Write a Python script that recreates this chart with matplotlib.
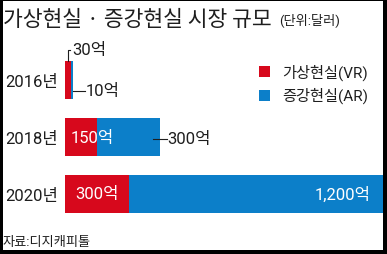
# VR / AR market size stacked bar chart
import matplotlib.pyplot as plt
from matplotlib.patches import Rectangle

plt.rcParams['font.family'] = ['Roboto', 'Noto Sans CJK KR', 'DejaVu Sans']

years = ['2016년', '2018년', '2020년']
vr = [30, 150, 300]
ar = [10, 300, 1200]
vr_labels = ['30억', '150억', '300억']
ar_labels = ['10억', '300억', '1,200억']

RED = '#d7081c'
BLUE = '#0c7fc9'
TXT = '#1e1e1e'

W, H = 387, 255


def fx(x):
    return x / W


def fy(y):
    return 1 - y / H


fig = plt.figure(figsize=(W / 100, H / 100), dpi=100, facecolor='black')
# white panel inside the black frame
fig.patches.append(Rectangle((fx(3), fy(251)), fx(380), 249 / H,
                             transform=fig.transFigure, facecolor='white',
                             edgecolor='none', zorder=-5))

ax = fig.add_axes([fx(65), fy(223.5), 318 / W, 171 / H])
ax.set_zorder(2)
ax.set_facecolor('none')
ypos = range(len(years))
h = 0.65
ax.barh(ypos, vr, height=h, color=RED, zorder=2)
ax.barh(ypos, ar, left=vr, height=h, color=BLUE, zorder=2)
ax.set_xlim(0, 1500)
ax.set_ylim(2.5, -0.5)
for s in ax.spines.values():
    s.set_visible(False)
ax.set_xticks([])
ax.set_yticks(list(ypos), years)
ax.tick_params(axis='y', length=0, pad=5, labelsize=12, labelcolor=TXT)

# 2016: both values outside with leader lines
x0 = vr[0] / 2
ax.plot([x0, x0, x0 + 10], [-h / 2, -0.53, -0.53], color=TXT, lw=0.8,
        clip_on=False)
ax.text(x0 + 18, -0.54, vr_labels[0], fontsize=12, color=TXT,
        ha='left', va='center', clip_on=False)
tot = vr[0] + ar[0]
ax.plot([tot, tot + 55], [0.19, 0.19], color=TXT, lw=0.8)
ax.text(tot + 57, 0.19, ar_labels[0], fontsize=12, color=TXT,
        ha='left', va='center')

# 2018
ax.annotate(vr_labels[1], (0, 1), xytext=(4, 0), textcoords='offset points',
            fontsize=12, color='white', ha='left', va='center', zorder=3)
tot = vr[1] + ar[1]
ax.plot([tot - 35, tot + 30], [1.03, 1.03], color=TXT, lw=0.8, zorder=3)
ax.text(tot + 30, 1.03, ar_labels[1], fontsize=12, color=TXT,
        ha='left', va='center')

# 2020
ax.text(vr[2] / 2, 2, vr_labels[2], fontsize=12, color='white',
        ha='center', va='center', zorder=3)
ax.annotate(ar_labels[2], (vr[2] + ar[2], 2), xytext=(-9, 0),
            textcoords='offset points', fontsize=12, color='white',
            ha='right', va='center', zorder=3)

# title
fig.text(fx(3), fy(26), '가상현실 · 증강현실 시장 규모', fontsize=15.5,
         color=TXT, ha='left', va='baseline',
         family=['Noto Sans CJK KR', 'DejaVu Sans'], fontweight='medium')
fig.text(fx(279), fy(24), '(단위:달러)', fontsize=9.5, color=TXT,
         ha='left', va='baseline')

# legend
for i, (lab, col) in enumerate([('가상현실(VR)', RED), ('증강현실(AR)', BLUE)]):
    yc = 72.5 + i * 23.5
    fig.patches.append(Rectangle((fx(259), fy(yc + 5.5)), 11 / W, 11 / H,
                                 transform=fig.transFigure, facecolor=col,
                                 edgecolor='none'))
    fig.text(fx(282), fy(yc), lab, fontsize=11, color=TXT,
             ha='left', va='center')

# source
fig.text(fx(3), fy(243), '자료:디지캐피톨', fontsize=9.5, color=TXT,
         ha='left', va='center')

fig.savefig('out.png', dpi=100, facecolor='black')
